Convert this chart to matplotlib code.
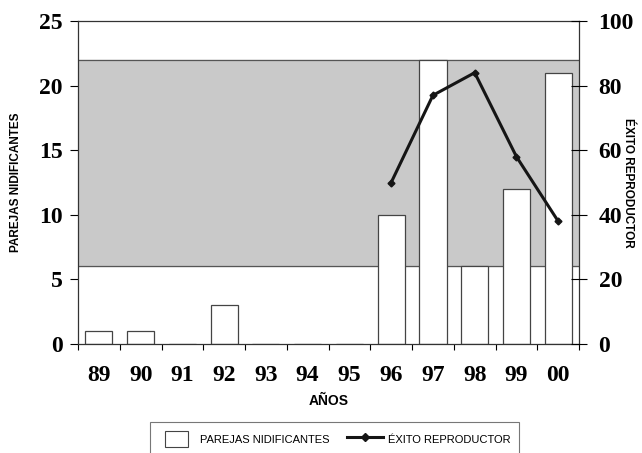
import numpy as np
import matplotlib
matplotlib.use("Agg")
import matplotlib.pyplot as plt
from matplotlib.patches import Patch, Rectangle
from matplotlib.lines import Line2D
from matplotlib.legend_handler import HandlerPatch

years = ["89", "90", "91", "92", "93", "94", "95", "96", "97", "98", "99", "00"]
parejas = [1, 1, 0, 3, 0, 0, 0, 10, 22, 6, 12, 21]
exito_years = ["96", "97", "98", "99", "00"]
exito = [50, 77, 84, 58, 38]
band_low, band_high = 6, 22

SERIF = "Liberation Serif"
SANS = "Liberation Sans"
NARROW = ["Liberation Sans Narrow", "Liberation Sans"]

fig = plt.figure(figsize=(6.42, 4.53), dpi=100)
ax = fig.add_axes([0.1215, 0.2406, 0.7805, 0.713])
x = np.arange(len(years))

ax.axhspan(band_low, band_high, color="#c9c9c9", zorder=0)
ax.axhline(band_low, color="#555555", lw=0.9, zorder=0.5)
ax.axhline(band_high, color="#555555", lw=0.9, zorder=0.5)
ax.bar(x, parejas, width=0.65, color="white", edgecolor="#444444", lw=0.9, zorder=2)

ax.set_xlim(-0.5, len(years) - 0.5)
ax.set_ylim(0, 25)
ax.set_yticks([0, 5, 10, 15, 20, 25])
ax.set_xticks(np.arange(-0.5, len(years)), labels=[])
ax.set_xticks(x, labels=years, minor=True)
ax.tick_params(axis="x", which="minor", length=0, pad=15)
ax.tick_params(axis="x", which="major", direction="out", length=4.5)
ax.tick_params(axis="y", direction="out", length=6, pad=5)
for lab in ax.get_xticklabels(minor=True) + ax.get_yticklabels():
    lab.set_fontfamily(SERIF)
    lab.set_fontweight("bold")
    lab.set_fontsize(17)
ax.set_ylabel("PAREJAS NIDIFICANTES", fontfamily=SANS, fontweight="bold", fontsize=8.5)
ax.yaxis.set_label_coords(-0.112, 0.5)
ax.set_xlabel("AÑOS", fontfamily=SANS, fontweight="bold", fontsize=10)
ax.xaxis.set_label_coords(0.5, -0.155)
for s in ax.spines.values():
    s.set_color("#333333")
    s.set_linewidth(0.9)

ax2 = ax.twinx()
xe = [years.index(y) for y in exito_years]
ax2.plot(xe, exito, "-D", color="#151515", lw=2.2, ms=3.5, zorder=5)
ax2.set_ylim(0, 100)
ax2.set_yticks([0, 20, 40, 60, 80, 100])
ax2.tick_params(axis="y", direction="inout", length=12, pad=8)
for lab in ax2.get_yticklabels():
    lab.set_fontfamily(SERIF)
    lab.set_fontweight("bold")
    lab.set_fontsize(17)
ax2.set_ylabel("ÉXITO REPRODUCTOR", fontfamily=SANS, fontweight="bold", fontsize=8.5,
               rotation=-90, va="center")
ax2.yaxis.set_label_coords(1.098, 0.5)
for s in ax2.spines.values():
    s.set_visible(False)


def small_box(legend, orig_handle, xdescent, ydescent, width, height, fontsize):
    w = width * 0.62
    return Rectangle((-xdescent + 5, -ydescent), w, height)


handles = [Patch(facecolor="white", edgecolor="#444444", lw=0.8),
           Line2D([], [], color="#151515", lw=2.2, marker="D", ms=4.5)]
leg = fig.legend(handles, ["PAREJAS NIDIFICANTES", "ÉXITO REPRODUCTOR"],
                 loc="upper center", bbox_to_anchor=(0.521, 1 - 422 / 453), ncol=2,
                 frameon=True, fancybox=False, edgecolor="#555555",
                 handlelength=3.3, handleheight=1.9, handletextpad=0.4,
                 columnspacing=1.6, borderpad=0.8, borderaxespad=0,
                 handler_map={Patch: HandlerPatch(patch_func=small_box)},
                 prop={"family": NARROW, "size": 8})
leg.get_frame().set_linewidth(0.8)

fig.savefig("out.png", dpi=100)
